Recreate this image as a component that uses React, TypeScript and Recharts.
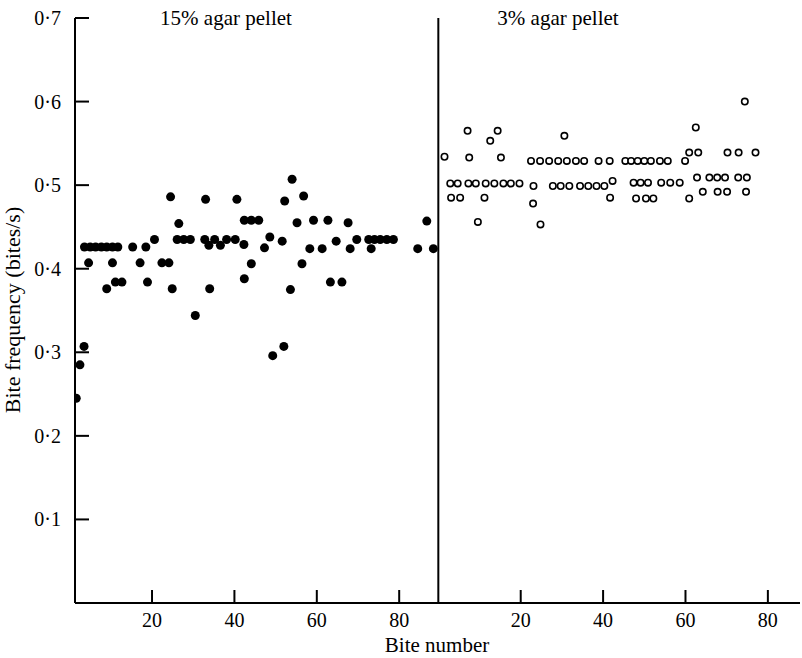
import React from 'react';
import { ScatterChart, Scatter, XAxis, YAxis, ReferenceLine } from 'recharts';

const OFFSET = 89.5;
const FONT = '"Liberation Serif", "DejaVu Serif", "Times New Roman", serif';
const FS = 20;

// 15% agar pellet (filled dots)
const leftBite = [1.6, 2.5, 3.5, 3.6, 4.6, 5.0, 6.3, 7.7, 9.0, 9.0, 10.4, 10.4, 11.1, 11.7, 12.7, 15.3, 17.1, 18.5, 18.9, 20.6, 22.4, 24.1, 24.5, 24.9, 26.1, 26.5, 27.7, 29.3, 30.5, 32.8, 33.0, 33.8, 34.0, 35.2, 36.6, 38.1, 40.2, 40.6, 42.3, 42.4, 42.4, 44.1, 44.1, 45.9, 47.3, 48.6, 49.3, 51.6, 52.0, 52.2, 53.6, 54.0, 55.2, 56.4, 56.8, 58.3, 59.2, 61.3, 62.7, 63.3, 64.7, 66.1, 67.6, 68.1, 69.7, 72.6, 73.2, 74.0, 75.4, 77.0, 78.6, 84.5, 86.7, 88.3];
const leftFreq = [0.245, 0.285, 0.307, 0.426, 0.407, 0.426, 0.426, 0.426, 0.426, 0.376, 0.426, 0.407, 0.384, 0.426, 0.384, 0.426, 0.407, 0.426, 0.384, 0.435, 0.407, 0.407, 0.486, 0.376, 0.435, 0.454, 0.435, 0.435, 0.344, 0.435, 0.483, 0.428, 0.376, 0.435, 0.428, 0.435, 0.435, 0.483, 0.429, 0.458, 0.388, 0.458, 0.406, 0.458, 0.425, 0.438, 0.296, 0.433, 0.307, 0.481, 0.375, 0.507, 0.455, 0.406, 0.487, 0.424, 0.458, 0.424, 0.458, 0.384, 0.433, 0.384, 0.455, 0.424, 0.435, 0.435, 0.424, 0.435, 0.435, 0.435, 0.435, 0.424, 0.457, 0.424];

// 3% agar pellet (open circles)
const rightBite = [1.5, 2.9, 3.1, 4.7, 5.3, 7.1, 7.3, 7.5, 9.1, 9.6, 11.2, 11.5, 12.6, 13.6, 14.4, 15.2, 15.8, 17.6, 19.7, 22.5, 23.0, 23.1, 24.7, 24.8, 26.9, 27.8, 29.1, 29.7, 30.6, 31.2, 31.8, 33.4, 34.4, 35.4, 36.4, 38.4, 38.9, 40.3, 41.6, 41.7, 42.3, 45.4, 46.8, 47.4, 48.0, 48.4, 49.1, 50.0, 50.4, 50.9, 51.6, 52.2, 53.8, 54.1, 55.7, 56.3, 58.6, 59.9, 60.9, 60.9, 62.5, 62.8, 63.1, 64.2, 65.8, 67.7, 67.8, 69.6, 70.1, 70.2, 72.8, 72.9, 74.4, 74.7, 74.9, 77.0];
const rightFreq = [0.534, 0.502, 0.485, 0.502, 0.485, 0.565, 0.502, 0.533, 0.502, 0.456, 0.485, 0.502, 0.553, 0.502, 0.565, 0.533, 0.502, 0.502, 0.502, 0.529, 0.478, 0.499, 0.529, 0.453, 0.529, 0.499, 0.529, 0.499, 0.559, 0.529, 0.499, 0.529, 0.499, 0.529, 0.499, 0.499, 0.529, 0.499, 0.529, 0.485, 0.505, 0.529, 0.529, 0.503, 0.484, 0.529, 0.503, 0.529, 0.484, 0.503, 0.529, 0.484, 0.529, 0.503, 0.529, 0.503, 0.503, 0.529, 0.539, 0.484, 0.569, 0.509, 0.539, 0.492, 0.509, 0.509, 0.492, 0.509, 0.492, 0.539, 0.509, 0.539, 0.600, 0.492, 0.509, 0.539];

const yTicks = [0.1, 0.2, 0.3, 0.4, 0.5, 0.6, 0.7];
const xTickLabels = [20, 40, 60, 80];
const panelTitles = ['15% agar pellet', '3% agar pellet'];
const xTitle = 'Bite number';
const yTitle = 'Bite frequency (bites/s)';

const leftData = leftBite.map((b, i) => ({ x: b, y: leftFreq[i] }));
const rightData = rightBite.map((b, i) => ({ x: b + OFFSET, y: rightFreq[i] }));
const xTicks = [...xTickLabels, ...xTickLabels.map((t) => t + OFFSET)];

const fmtY = (v: number) => v.toFixed(1).replace('.', '\u00B7');

const YTick = (props: any) => {
  const { x, y, payload } = props;
  return (
    <g>
      <line x1={x} x2={x + 14} y1={y} y2={y} stroke="#000" strokeWidth={2} />
      <text x={x - 14} y={y} dy="0.35em" textAnchor="end" fontFamily={FONT} fontSize={FS} fill="#000">
        {fmtY(payload.value)}
      </text>
    </g>
  );
};

const XTick = (props: any) => {
  const { x, y, payload } = props;
  const v = payload.value > OFFSET ? Math.round(payload.value - OFFSET) : Math.round(payload.value);
  return (
    <g>
      <line x1={x} x2={x} y1={y} y2={y - 13} stroke="#000" strokeWidth={2} />
      <text x={x} y={y + 17} dy="0.35em" textAnchor="middle" fontFamily={FONT} fontSize={FS} fill="#000">
        {v}
      </text>
    </g>
  );
};

const Dot = (props: any) => <circle cx={props.cx} cy={props.cy} r={4.5} fill="#000" />;
const Ring = (props: any) => (
  <circle cx={props.cx} cy={props.cy} r={3.2} fill="#fff" stroke="#000" strokeWidth={1.6} />
);

export default function App() {
  return (
    <div style={{ position: 'absolute', left: 0, top: 0, width: 802, height: 658, background: '#fff' }}>
      <ScatterChart width={802} height={658} margin={{ top: 18, right: 2, bottom: 15, left: 15 }}>
        <XAxis
          type="number"
          dataKey="x"
          domain={[1.3, 177.3]}
          ticks={xTicks}
          interval={0}
          tick={(p: any) => <XTick {...p} />}
          tickSize={0}
          tickMargin={0}
          tickLine={false}
          axisLine={{ stroke: '#000', strokeWidth: 2 }}
          height={40}
          allowDataOverflow
        />
        <YAxis
          type="number"
          dataKey="y"
          domain={[0, 0.7]}
          ticks={yTicks}
          interval={0}
          tick={(p: any) => <YTick {...p} />}
          tickSize={0}
          tickMargin={0}
          tickLine={false}
          axisLine={{ stroke: '#000', strokeWidth: 2 }}
          width={60}
          allowDataOverflow
        />
        <ReferenceLine x={OFFSET} stroke="#000" strokeWidth={2} />
        <Scatter data={leftData} shape={Dot} isAnimationActive={false} />
        <Scatter data={rightData} shape={Ring} isAnimationActive={false} />
      </ScatterChart>
      <svg width={802} height={658} style={{ position: 'absolute', left: 0, top: 0, pointerEvents: 'none' }}>
        <text x={226} y={18} dy="0.35em" textAnchor="middle" fontFamily={FONT} fontSize={21} fill="#000">
          {panelTitles[0]}
        </text>
        <text x={558} y={18} dy="0.35em" textAnchor="middle" fontFamily={FONT} fontSize={21} fill="#000">
          {panelTitles[1]}
        </text>
        <text x={437} y={645} dy="0.35em" textAnchor="middle" fontFamily={FONT} fontSize={21} fill="#000">
          {xTitle}
        </text>
        <text
          x={12}
          y={310}
          dy="0.35em"
          textAnchor="middle"
          fontFamily={FONT}
          fontSize={22}
          fill="#000"
          transform="rotate(-90 12 310)"
        >
          {yTitle}
        </text>
      </svg>
    </div>
  );
}
